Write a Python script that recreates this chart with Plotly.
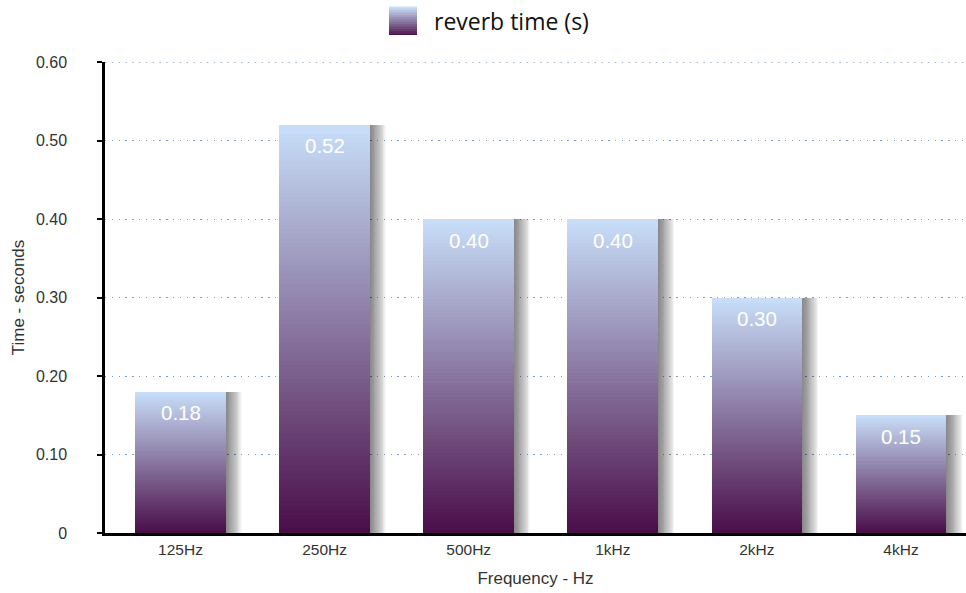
import plotly.graph_objects as go

# Reverberation time per octave band
bands = ["125Hz", "250Hz", "500Hz", "1kHz", "2kHz", "4kHz"]
reverb_s = [0.18, 0.52, 0.40, 0.40, 0.30, 0.15]
y_ticks = [0, 0.1, 0.2, 0.3, 0.4, 0.5, 0.6]
y_tick_text = ["0", "0.10", "0.20", "0.30", "0.40", "0.50", "0.60"]
series_name = "reverb time (s)"

TOP = (200, 222, 248)     # light blue at bar top
BOTTOM = (72, 12, 70)     # deep purple at bar bottom
STEPS = 90
BAR_W = 0.63
FONT = "Liberation Sans, Arial, sans-serif"
GRID_COLOR = "#7f9ac4"
GRID_DASH = "1.4px,5.4px"


def mix(t):
    """Colour at relative height t (0 = bottom, 1 = top)."""
    r, g, b = (round(BOTTOM[i] + (TOP[i] - BOTTOM[i]) * t) for i in range(3))
    return f"rgb({r},{g},{b})"


fig = go.Figure()

# soft drop shadow to the right of each bar
for j in range(18):
    fig.add_trace(go.Bar(
        x=bands, y=reverb_s, width=BAR_W, offset=-BAR_W / 2 + 0.0062 * (j + 1),
        marker=dict(color="rgba(0,0,0,0.033)", line=dict(width=0)),
        hoverinfo="skip", showlegend=False,
    ))

# vertical gradient: progressively shorter, darker bars laid over each other
for k in range(STEPS):
    frac = (STEPS - k) / STEPS
    fig.add_trace(go.Bar(
        x=bands, y=[v * frac for v in reverb_s], width=BAR_W, offset=-BAR_W / 2,
        marker=dict(color=mix(frac), line=dict(width=0)),
        hoverinfo="skip", showlegend=False,
    ))

# value labels just inside the top of each bar
for b, v in zip(bands, reverb_s):
    fig.add_annotation(x=b, y=v, text=f"{v:.2f}", showarrow=False,
                       yshift=-21, yanchor="middle",
                       font=dict(family=FONT, size=20.5, color="white"))

# dotted line along the top of the value range
fig.add_shape(type="line", xref="paper", yref="y", x0=0, x1=1,
              y0=y_ticks[-1], y1=y_ticks[-1], layer="below",
              line=dict(color=GRID_COLOR, width=1.3, dash=GRID_DASH))

# legend: gradient swatch plus label, centred above the plot
W, H = 966, 593
L, R, T, B = 105, 0, 62, 60
plot_w, plot_h = W - L - R, H - T - B
sw_x0, sw_y0, sw_size = 389, 7, 28


def px_x(px):
    return (px - L) / plot_w


def px_y(py):
    return (H - B - py) / plot_h


for k in range(40):
    t0, t1 = k / 40, (k + 1) / 40
    fig.add_shape(type="rect", xref="paper", yref="paper",
                  x0=px_x(sw_x0), x1=px_x(sw_x0 + sw_size),
                  y0=px_y(sw_y0 + sw_size * (1 - t0)),
                  y1=px_y(sw_y0 + sw_size * (1 - t1)) + 0.001,
                  fillcolor=mix(t1), line=dict(width=0), layer="above")
fig.add_annotation(xref="paper", yref="paper",
                   x=px_x(432), y=px_y(21),
                   xanchor="left", yanchor="middle", showarrow=False,
                   text=series_name,
                   font=dict(family="Open Sans, sans-serif", size=23, color="#111"))

fig.update_layout(
    width=W, height=H,
    margin=dict(l=L, r=R, t=T, b=B),
    paper_bgcolor="white", plot_bgcolor="white",
    barmode="overlay", bargap=0,
    showlegend=False,
    font=dict(family=FONT, size=15, color="#333"),
)
fig.update_xaxes(
    range=[-0.524, 5.451], showgrid=False,
    showline=True, linecolor="black", linewidth=3,
    ticks="", tickfont=dict(size=15.5, color="#333"),
    title=dict(text="Frequency - Hz", font=dict(size=17, color="#333"), standoff=16),
)
fig.update_yaxes(
    range=[0, 0.6], tickvals=y_ticks, ticktext=y_tick_text,
    showline=True, linecolor="black", linewidth=2.5,
    ticks="outside", ticklen=5, tickwidth=2, tickcolor="black",
    ticklabelstandoff=27,
    showgrid=True, gridcolor=GRID_COLOR, gridwidth=1.3, griddash=GRID_DASH,
    zeroline=False,
    tickfont=dict(size=16, color="#333"),
    title=dict(text="Time - seconds", font=dict(size=17, color="#333"), standoff=7),
)

fig.write_html("out.html")
